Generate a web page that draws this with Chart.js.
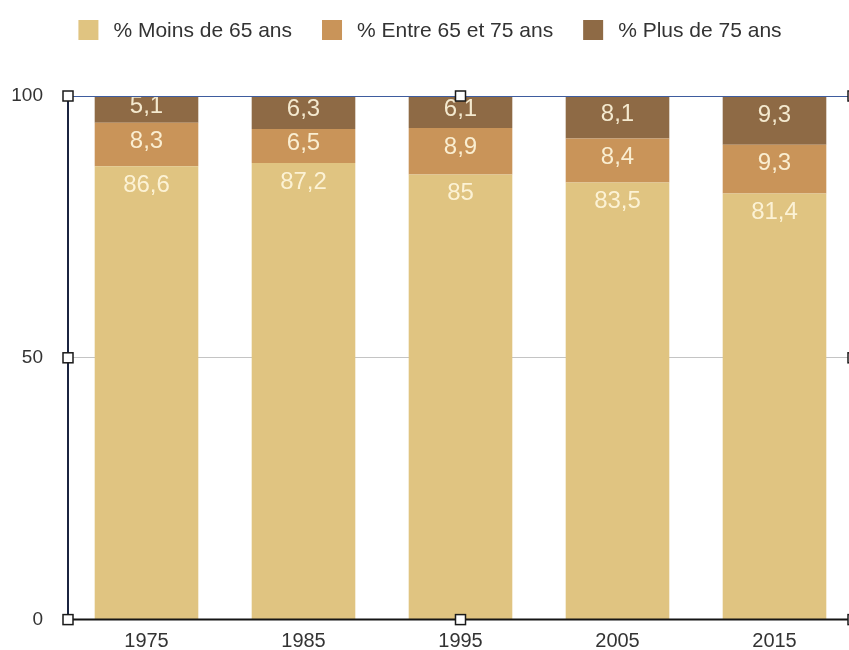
<!DOCTYPE html>
<html>
<head>
<meta charset="utf-8">
<script src="https://cdn.jsdelivr.net/npm/chart.js@4.4.1/dist/chart.umd.min.js"></script>
<style>
html,body{margin:0;padding:0;background:#fff;overflow:hidden;}
#wrap{width:849px;height:650px;overflow:hidden;position:relative;}
canvas{display:block;}
</style>
</head>
<body>
<div id="wrap"><canvas id="c" width="860" height="656"></canvas></div>
<script>
const categories = ['1975', '1985', '1995', '2005', '2015'];
const seriesNames = ['% Moins de 65 ans', '% Entre 65 et 75 ans', '% Plus de 75 ans'];
const moins65 = [86.6, 87.2, 85, 83.5, 81.4];
const entre65_75 = [8.3, 6.5, 8.9, 8.4, 9.3];
const plus75 = [5.1, 6.3, 6.1, 8.1, 9.3];
const yTicks = [0, 50, 100];

const colors = ['#E0C481', '#C99459', '#8E6A45'];
const FONT = '"Liberation Sans", Arial, Helvetica, sans-serif';

const fmt = v => String(v).replace('.', ',');

const extras = {
  id: 'extras',
  afterDatasetsDraw(chart) {
    const ctx = chart.ctx;
    const a = chart.chartArea;
    // data labels
    ctx.save();
    ctx.font = '24px ' + FONT;
    ctx.fillStyle = 'rgba(255,247,222,0.9)';
    ctx.textAlign = 'center';
    ctx.textBaseline = 'middle';
    chart.data.datasets.forEach((ds, di) => {
      const meta = chart.getDatasetMeta(di);
      meta.data.forEach((bar, i) => {
        const top = Math.min(bar.y, bar.base);
        const h = Math.abs(bar.base - bar.y);
        const off = Math.min(19, h / 2 - 3);
        ctx.fillText(fmt(ds.data[i]), bar.x, top + off);
      });
    });
    ctx.restore();

    // frame lines
    ctx.save();
    ctx.lineWidth = 1;
    ctx.strokeStyle = '#3E5C9E';
    ctx.beginPath();
    ctx.moveTo(a.left, a.top + 0.5);
    ctx.lineTo(a.right, a.top + 0.5);
    ctx.stroke();
    ctx.lineWidth = 2;
    ctx.strokeStyle = '#1B2440';
    ctx.beginPath();
    ctx.moveTo(a.left, a.top);
    ctx.lineTo(a.left, a.bottom);
    ctx.stroke();
    ctx.strokeStyle = '#151515';
    ctx.beginPath();
    ctx.moveTo(a.left, a.bottom);
    ctx.lineTo(a.right, a.bottom);
    ctx.stroke();

    // selection handles
    const xs = [a.left, (a.left + a.right) / 2, a.right];
    const ys = [a.top, (a.top + a.bottom) / 2, a.bottom];
    ctx.lineWidth = 1.5;
    ctx.strokeStyle = '#1a1a1a';
    ctx.fillStyle = '#ffffff';
    xs.forEach((x, xi) => ys.forEach((y, yi) => {
      if (xi === 1 && yi === 1) return;
      ctx.fillRect(x - 5, y - 5, 10, 10);
      ctx.strokeRect(x - 5, y - 5, 10, 10);
    }));
    ctx.restore();
  },
  afterDraw(chart) {
    // legend
    const ctx = chart.ctx;
    ctx.save();
    ctx.font = '21px ' + FONT;
    ctx.textBaseline = 'middle';
    ctx.textAlign = 'left';
    const box = 20, gapBT = 15, gapItems = 30;
    const widths = seriesNames.map(n => box + gapBT + ctx.measureText(n).width);
    const total = widths.reduce((s, w) => s + w, 0) + gapItems * (widths.length - 1);
    let x = 430 - total / 2;
    const cy = 30;
    seriesNames.forEach((n, i) => {
      ctx.fillStyle = colors[i];
      ctx.fillRect(x, cy - box / 2, box, box);
      ctx.fillStyle = '#333333';
      ctx.fillText(n, x + box + gapBT, cy + 1);
      x += widths[i] + gapItems;
    });
    ctx.restore();
  }
};

new Chart(document.getElementById('c'), {
  type: 'bar',
  data: {
    labels: categories,
    datasets: [
      { label: seriesNames[0], data: moins65, backgroundColor: colors[0] },
      { label: seriesNames[1], data: entre65_75, backgroundColor: colors[1] },
      { label: seriesNames[2], data: plus75, backgroundColor: colors[2] }
    ]
  },
  options: {
    responsive: false,
    animation: false,
    devicePixelRatio: 1,
    layout: { padding: { top: 96, right: 7, left: 0, bottom: 0 } },
    datasets: { bar: { categoryPercentage: 1, barPercentage: 0.66, borderWidth: 0 } },
    plugins: { legend: { display: false }, tooltip: { enabled: false } },
    scales: {
      x: {
        stacked: true,
        grid: { display: false, drawTicks: false },
        border: { display: false },
        ticks: { font: { size: 20, family: FONT }, color: '#333333', padding: 10 },
        afterFit(s) { s.height = 30; }
      },
      y: {
        stacked: true,
        min: 0, max: 100,
        afterBuildTicks(s) { s.ticks = yTicks.map(v => ({ value: v })); },
        grid: {
          drawTicks: false,
          color: ctx => (ctx.tick && ctx.tick.value === 50) ? '#C4C4C4' : 'rgba(0,0,0,0)',
          lineWidth: 1
        },
        border: { display: false },
        ticks: { font: { size: 19, family: FONT }, color: '#333333', padding: 25 },
        afterFit(s) { s.width = 68; }
      }
    }
  },
  plugins: [extras]
});
</script>
</body>
</html>
